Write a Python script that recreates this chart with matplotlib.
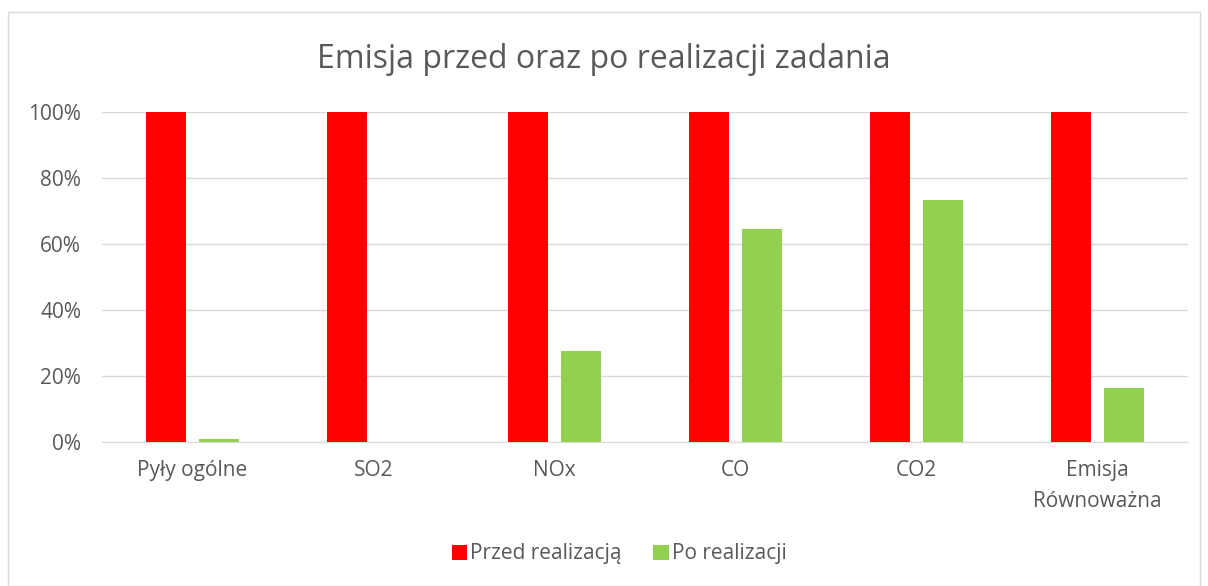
import numpy as np
import matplotlib
matplotlib.use("Agg")
import matplotlib.pyplot as plt
from matplotlib.patches import Rectangle
from matplotlib.ticker import PercentFormatter

categories = ["Pyły ogólne", "SO2", "NOx", "CO", "CO2", "Emisja\nRównoważna"]
przed = [100, 100, 100, 100, 100, 100]
po = [1.0, 0.0, 27.5, 64.5, 73.3, 16.4]

red = "#ff0000"
green = "#92d050"
text_color = "#595959"

plt.rcParams["font.family"] = ["Open Sans", "DejaVu Sans"]

fig = plt.figure(figsize=(12.08, 5.86), dpi=100)
ax = fig.add_axes([102 / 1208, 1 - 442 / 586, 1086 / 1208, 330 / 586])

x = np.arange(len(categories))
width = 0.22
ax.bar(x - 0.145, przed, width, color=red, label="Przed realizacją", zorder=3)
ax.bar(x + 0.145, po, width, color=green, label="Po realizacji", zorder=3)

ax.set_xlim(-0.5, len(categories) - 0.5)
ax.set_ylim(0, 100)
ax.set_yticks(np.arange(0, 101, 20))
ax.yaxis.set_major_formatter(PercentFormatter(decimals=0))
ax.set_xticks(x)
ax.set_xticklabels(categories, linespacing=1.6)
ax.grid(axis="y", color="#d9d9d9", linewidth=1, zorder=0)
for s in ["top", "right", "left"]:
    ax.spines[s].set_visible(False)
ax.spines["bottom"].set_color("#d9d9d9")
ax.tick_params(axis="both", length=0, colors=text_color, labelsize=15, pad=13)
ax.tick_params(axis="y", pad=15)

fig.text(0.5, 1 - 60 / 586, "Emisja przed oraz po realizacji zadania",
         ha="center", va="center", fontsize=23, color=text_color)

ax.legend(loc="center", bbox_to_anchor=(619 / 1208, 1 - 554 / 586), bbox_transform=fig.transFigure,
          ncol=2, frameon=False, fontsize=15, labelcolor=text_color,
          handlelength=0.75, handleheight=0.75, handletextpad=0.15, columnspacing=1.5)

fig.patches.append(Rectangle((8 / 1208, 0), 1 - 16 / 1208, 1 - 12 / 586, transform=fig.transFigure,
                             fill=False, edgecolor="#d9d9d9", linewidth=1))

fig.savefig("out.png", dpi=100)
